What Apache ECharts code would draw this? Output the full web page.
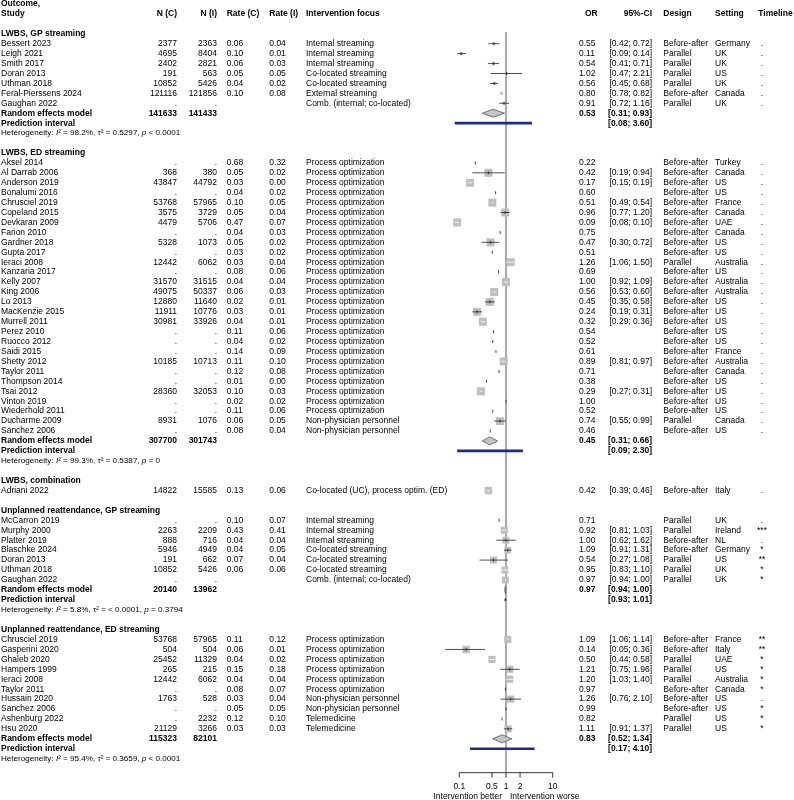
<!DOCTYPE html>
<html>
<head>
<meta charset="utf-8">
<script src="https://cdn.jsdelivr.net/npm/echarts@6.0.0/dist/echarts.min.js"></script>
<style>
  html, body { margin: 0; padding: 0; background: #fff; }
  #forest { width: 794px; height: 800px; }
</style>
</head>
<body>
<div id="forest"></div>
<script>
// subgroups
const subgroupTitles = [
  'LWBS, GP streaming',
  'LWBS, ED streaming',
  'LWBS, combination',
  'Unplanned reattendance, GP streaming',
  'Unplanned reattendance, ED streaming'
]

// studies (null = '.' or blank in the table, no CI)
const studyGroup = [
  0, 0, 0, 0, 0, 0, 0,
  1, 1, 1, 1, 1, 1, 1, 1, 1, 1, 1, 1, 1, 1, 1, 1, 1, 1, 1, 1, 1, 1, 1, 1, 1, 1, 1, 1,
  2,
  3, 3, 3, 3, 3, 3, 3,
  4, 4, 4, 4, 4, 4, 4, 4, 4, 4
]
const studies = [
  'Bessert 2023', 'Leigh 2021', 'Smith 2017', 'Doran 2013', 'Uthman 2018', 'Feral-Pierssens 2024', 'Gaughan 2022',
  'Aksel 2014', 'Al Darrab 2006', 'Anderson 2019', 'Bonalumi 2016', 'Chrusciel 2019', 'Copeland 2015', 'Devkaran 2009',
  'Farion 2010', 'Gardner 2018', 'Gupta 2017', 'Ieraci 2008', 'Kanzaria 2017', 'Kelly 2007', 'King 2006', 'Lo 2013',
  'MacKenzie 2015', 'Murrell 2011', 'Perez 2010', 'Ruocco 2012', 'Saidi 2015', 'Shetty 2012', 'Taylor 2011',
  'Thompson 2014', 'Tsai 2012', 'Vinton 2019', 'Wiederhold 2011', 'Ducharme 2009', 'Sanchez 2006',
  'Adriani 2022',
  'McCarron 2019', 'Murphy 2000', 'Platter 2019', 'Blaschke 2024', 'Doran 2013', 'Uthman 2018', 'Gaughan 2022',
  'Chrusciel 2019', 'Gasperini 2020', 'Ghaleb 2020', 'Hampers 1999', 'Ieraci 2008', 'Taylor 2011', 'Hussain 2020',
  'Sanchez 2006', 'Ashenburg 2022', 'Hsu 2020'
]
const nControl = [
  2377, 4695, 2402, 191, 10852, 121116, null,
  null, 368, 43847, null, 53768, 3575, 4479, null, 5328, null, 12442, null, 31570, 49075, 12880,
  11911, 30981, null, null, null, 10185, null, null, 28360, null, null, 8931, null,
  14822,
  null, 2263, 888, 5946, 191, 10852, null,
  53768, 504, 25452, 265, 12442, null, 1763, null, null, 21129
]
const nInterv = [
  2363, 8404, 2821, 563, 5426, 121856, null,
  null, 380, 44792, null, 57965, 3729, 5706, null, 1073, null, 6062, null, 31515, 50337, 11640,
  10776, 33926, null, null, null, 10713, null, null, 32053, null, null, 1076, null,
  15585,
  null, 2209, 716, 4949, 662, 5426, null,
  57965, 504, 11329, 215, 6062, null, 528, null, 2232, 3266
]
const rateControl = [
  0.06, 0.10, 0.06, 0.05, 0.04, 0.10, null,
  0.68, 0.05, 0.03, 0.04, 0.10, 0.05, 0.47, 0.04, 0.05, 0.03, 0.03, 0.08, 0.04, 0.06, 0.02,
  0.03, 0.04, 0.11, 0.04, 0.14, 0.11, 0.12, 0.01, 0.10, 0.02, 0.11, 0.06, 0.08,
  0.13,
  0.10, 0.43, 0.04, 0.04, 0.07, 0.06, null,
  0.11, 0.06, 0.04, 0.15, 0.04, 0.08, 0.03, 0.05, 0.12, 0.03
]
const rateInterv = [
  0.04, 0.01, 0.03, 0.05, 0.02, 0.08, null,
  0.32, 0.02, 0.00, 0.02, 0.05, 0.04, 0.07, 0.03, 0.02, 0.02, 0.04, 0.06, 0.04, 0.03, 0.01,
  0.01, 0.01, 0.06, 0.02, 0.09, 0.10, 0.08, 0.00, 0.03, 0.02, 0.06, 0.05, 0.04,
  0.06,
  0.07, 0.41, 0.04, 0.05, 0.04, 0.06, null,
  0.12, 0.01, 0.02, 0.18, 0.04, 0.07, 0.04, 0.05, 0.10, 0.03
]
const PO = 'Process optimization'
const NP = 'Non-physician personnel'
const focus = [
  'Internal streaming', 'Internal streaming', 'Internal streaming', 'Co-located streaming', 'Co-located streaming',
  'External streaming', 'Comb. (internal; co-located)',
  PO, PO, PO, PO, PO, PO, PO, PO, PO, PO, PO, PO, PO, PO, PO, PO, PO, PO, PO, PO, PO, PO, PO, PO, PO, PO, NP, NP,
  'Co-located (UC), process optim. (ED)',
  'Internal streaming', 'Internal streaming', 'Internal streaming', 'Co-located streaming', 'Co-located streaming',
  'Co-located streaming', 'Comb. (internal; co-located)',
  PO, PO, PO, PO, PO, PO, NP, NP, 'Telemedicine', 'Telemedicine'
]
const oddsRatio = [
  0.55, 0.11, 0.54, 1.02, 0.56, 0.80, 0.91,
  0.22, 0.42, 0.17, 0.60, 0.51, 0.96, 0.09, 0.75, 0.47, 0.51, 1.26, 0.69, 1.00, 0.56, 0.45,
  0.24, 0.32, 0.54, 0.52, 0.61, 0.89, 0.71, 0.38, 0.29, 1.00, 0.52, 0.74, 0.46,
  0.42,
  0.71, 0.92, 1.00, 1.09, 0.54, 0.95, 0.97,
  1.09, 0.14, 0.50, 1.21, 1.20, 0.97, 1.26, 0.99, 0.82, 1.11
]
const ciLower = [
  0.42, 0.09, 0.41, 0.47, 0.45, 0.78, 0.72,
  null, 0.19, 0.15, null, 0.49, 0.77, 0.08, null, 0.30, null, 1.06, null, 0.92, 0.53, 0.35,
  0.19, 0.29, null, null, null, 0.81, null, null, 0.27, null, null, 0.55, null,
  0.39,
  null, 0.81, 0.62, 0.91, 0.27, 0.83, 0.94,
  1.06, 0.05, 0.44, 0.75, 1.03, null, 0.76, null, null, 0.91
]
const ciUpper = [
  0.72, 0.14, 0.71, 2.21, 0.68, 0.82, 1.16,
  null, 0.94, 0.19, null, 0.54, 1.20, 0.10, null, 0.72, null, 1.50, null, 1.09, 0.60, 0.58,
  0.31, 0.36, null, null, null, 0.97, null, null, 0.31, null, null, 0.99, null,
  0.46,
  null, 1.03, 1.62, 1.31, 1.08, 1.10, 1.00,
  1.14, 0.36, 0.58, 1.96, 1.40, null, 2.10, null, null, 1.37
]
// relative weight
const weight = [
  0.5, 0.5, 0.5, 0.5, 0.5, 0.6, 0.5,
  0, 4, 4, 0, 4, 4, 4, 0, 4, 0, 4, 0, 4, 4, 4, 4, 4, 0, 0, 0, 4, 0, 0, 4, 0, 0, 4, 0,
  3.5,
  0, 3, 3, 3, 3, 3, 3,
  3.2, 3.5, 3.2, 3.2, 3.2, 0, 3.2, 0, 0, 3.2
]
const BA = 'Before-after'
const PA = 'Parallel'
const design = [
  BA, PA, PA, PA, PA, BA, PA,
  BA, BA, BA, BA, BA, BA, BA, BA, BA, BA, PA, BA, BA, BA, BA, BA, BA, BA, BA, BA, BA, BA, BA, BA, BA, BA, PA, BA,
  BA,
  PA, PA, BA, BA, PA, PA, PA,
  BA, BA, PA, PA, PA, BA, BA, BA, PA, PA
]
const setting = [
  'Germany', 'UK', 'UK', 'US', 'UK', 'Canada', 'UK',
  'Turkey', 'Canada', 'US', 'US', 'France', 'Canada', 'UAE', 'Canada', 'US', 'US', 'Australia', 'US', 'Australia',
  'Australia', 'US', 'US', 'US', 'US', 'US', 'France', 'Australia', 'Canada', 'US', 'US', 'US', 'US', 'Canada', 'US',
  'Italy',
  'UK', 'Ireland', 'NL', 'Germany', 'US', 'UK', 'UK',
  'France', 'Italy', 'UAE', 'US', 'Australia', 'Canada', 'US', 'US', 'US', 'US'
]
const timeline = [
  '.', '.', '.', '.', '.', '.', '.',
  '.', '.', '.', '.', '.', '.', '.', '.', '.', '.', '.', '.', '.', '.', '.', '.', '.', '.', '.', '.', '.', '.', '.', '.', '.', '.', '.', '.',
  '.',
  '.', '***', '.', '*', '**', '*', '*',
  '**', '**', '*', '*', '*', '*', '.', '*', '*', '*'
]

// pooled results per subgroup (null = no pooling)
const poolNControl = [141633, 307700, null, 20140, 115323]
const poolNInterv = [141433, 301743, null, 13962, 82101]
const poolOR = [0.53, 0.45, null, 0.97, 0.83]
const poolLower = [0.31, 0.31, null, 0.94, 0.52]
const poolUpper = [0.93, 0.66, null, 1.00, 1.34]
const predLower = [0.08, 0.09, null, 0.93, 0.17]
const predUpper = [3.60, 2.30, null, 1.01, 4.10]
const hetI2 = ['98.2%', '99.3%', null, '5.8%', '95.4%']
const hetTau2 = ['0.5297', '0.5387', null, '< 0.0001', '0.3659']
const hetP = ['< 0.0001', '= 0', null, '= 0.3794', '< 0.0001']

// x axis ticks
const tickValues = [0.1, 0.5, 1, 2, 10]
const tickLabels = ['0.1', '0.5', '1', '2', '10']

// ---- layout ----
const FONT = 'Liberation Sans, Arial, Helvetica, sans-serif'
const FS = 8.5
const cols = {
  study: { x: 1, align: 'left' },
  nC: { x: 177, align: 'right' },
  nI: { x: 217, align: 'right' },
  rateC: { x: 226.7, align: 'left' },
  rateI: { x: 269.3, align: 'left' },
  focus: { x: 306, align: 'left' },
  or: { x: 579, align: 'left' },
  ci: { x: 652, align: 'right' },
  design: { x: 663.3, align: 'left' },
  setting: { x: 715, align: 'left' },
  timeline: { x: 762, align: 'center' }
}
const f2 = (v) => (v == null ? '' : v.toFixed(2))
const ci = (lo, hi) => (lo == null ? '' : '[' + f2(lo) + '; ' + f2(hi) + ']')
const nTxt = (v) => (v == null ? '.' : String(v))

// build table rows and forest marks
const textRows = []
const marks = []
textRows.push({ row: 0, bold: true, cells: [['study', 'Outcome,']] })
textRows.push({
  row: 1, bold: true,
  cells: [['study', 'Study'], ['nC', 'N (C)'], ['nI', 'N (I)'], ['rateC', 'Rate (C)'], ['rateI', 'Rate (I)'],
    ['focus', 'Intervention focus'], ['or', 'OR', 585], ['ci', '95%-CI'], ['design', 'Design'],
    ['setting', 'Setting'], ['timeline', 'Timeline', 758.3, 'left']]
})
let r = 3
subgroupTitles.forEach((title, g) => {
  textRows.push({ row: r, bold: true, cells: [['study', title]] })
  r++
  studies.forEach((name, i) => {
    if (studyGroup[i] !== g) return
    textRows.push({
      row: r,
      cells: [['study', name], ['nC', nTxt(nControl[i])], ['nI', nTxt(nInterv[i])],
        ['rateC', f2(rateControl[i])], ['rateI', f2(rateInterv[i])], ['focus', focus[i]],
        ['or', f2(oddsRatio[i])], ['ci', ci(ciLower[i], ciUpper[i])], ['design', design[i]],
        ['setting', setting[i]], ['timeline', timeline[i]]]
    })
    marks.push({ kind: 'study', row: r, est: oddsRatio[i], lo: ciLower[i], hi: ciUpper[i], w: weight[i] })
    r++
  })
  if (poolOR[g] != null) {
    textRows.push({
      row: r, bold: true,
      cells: [['study', 'Random effects model'], ['nC', String(poolNControl[g])], ['nI', String(poolNInterv[g])],
        ['or', f2(poolOR[g])], ['ci', ci(poolLower[g], poolUpper[g])]]
    })
    marks.push({ kind: 'pooled', row: r, est: poolOR[g], lo: poolLower[g], hi: poolUpper[g] })
    r++
    textRows.push({ row: r, bold: true, cells: [['study', 'Prediction interval'], ['ci', ci(predLower[g], predUpper[g])]] })
    marks.push({ kind: 'predict', row: r, lo: predLower[g], hi: predUpper[g] })
    r++
    textRows.push({ row: r, het: [hetI2[g], hetTau2[g], hetP[g]] })
    r++
  }
  r++
})
const refTop = 2.82
const axisRow = 77.41

const chart = echarts.init(document.getElementById('forest'))

const textItem = (x, y, text, align, bold) => ({
  type: 'text',
  style: {
    x: x, y: y, text: text, fill: '#000',
    fontFamily: FONT, fontSize: FS, fontWeight: bold ? 'bold' : 'normal',
    align: align, verticalAlign: 'middle'
  }
})

const option = {
  animation: false,
  grid: { left: 459.3, width: 93.4, top: 4, height: 794.4 },
  xAxis: { type: 'log', logBase: 10, min: 0.1, max: 10, show: false },
  yAxis: { type: 'value', min: 0, max: 80, inverse: true, show: false },
  series: [
    {
      // reference line at OR = 1
      type: 'custom',
      z: 1,
      data: [[1, refTop]],
      renderItem: (params, api) => {
        const a = api.coord([1, refTop])
        const b = api.coord([1, axisRow])
        return {
          type: 'line',
          shape: { x1: a[0], y1: a[1], x2: b[0], y2: b[1] },
          style: { stroke: '#aaaaaa', lineWidth: 2 }
        }
      }
    },
    {
      // forest marks
      type: 'custom',
      z: 3,
      data: marks.map((m) => [m.est == null ? 1 : m.est, m.row]),
      renderItem: (params, api) => {
        const m = marks[params.dataIndex]
        const y = api.coord([1, m.row])[1]
        const children = []
        if (m.kind === 'predict') {
          const xl = api.coord([m.lo, m.row])[0]
          const xh = api.coord([m.hi, m.row])[0]
          children.push({
            type: 'line', shape: { x1: xl, y1: y, x2: xh, y2: y },
            style: { stroke: '#1c2a8c', lineWidth: 2.6 }
          })
        } else if (m.kind === 'pooled') {
          const xl = api.coord([m.lo, m.row])[0]
          const xh = api.coord([m.hi, m.row])[0]
          const xc = api.coord([m.est, m.row])[0]
          children.push({
            type: 'polygon',
            shape: { points: [[xl, y], [xc, y - 4], [xh, y], [xc, y + 4]] },
            style: { fill: '#c4c4c4', stroke: '#555', lineWidth: 0.8 }
          })
        } else {
          const xc = api.coord([m.est, m.row])[0]
          const s = 4 * Math.sqrt(m.w)
          if (s > 0) {
            children.push({
              type: 'rect', shape: { x: xc - s / 2, y: y - s / 2, width: s, height: s },
              style: { fill: '#bebebe' }
            })
          }
          if (m.lo != null) {
            const xl = api.coord([m.lo, m.row])[0]
            const xh = api.coord([m.hi, m.row])[0]
            const inside = xl >= xc - s / 2 && xh <= xc + s / 2
            children.push({
              type: 'line', shape: { x1: xl, y1: y, x2: xh, y2: y },
              style: { stroke: inside ? '#fff' : '#222', lineWidth: 0.8 }
            })
            if (!inside) {
              children.push({
                type: 'line', shape: { x1: xc, y1: y - 1.5, x2: xc, y2: y + 1.5 },
                style: { stroke: '#222', lineWidth: 0.8 }
              })
            }
          } else {
            children.push({
              type: 'rect', shape: { x: xc - 0.5, y: y - 1.5, width: 1, height: 3 },
              style: { fill: '#444' }
            })
          }
        }
        return { type: 'group', children: children }
      }
    },
    {
      // table text
      type: 'custom',
      z: 4,
      data: textRows.map((t) => [1, t.row]),
      renderItem: (params, api) => {
        const t = textRows[params.dataIndex]
        const y = api.coord([1, t.row])[1]
        if (t.het) {
          return {
            type: 'text',
            style: {
              x: 1, y: y, align: 'left', verticalAlign: 'middle',
              text: '{a|Heterogeneity: }{i|I}{a|² = ' + t.het[0] + ', τ² = ' + t.het[1] + ', }{i|p}{a| ' + t.het[2] + '}',
              rich: {
                a: { fontFamily: FONT, fontSize: 8.1, fill: '#000' },
                i: { fontFamily: FONT, fontSize: 8.1, fontStyle: 'italic', fill: '#000' }
              }
            }
          }
        }
        const children = t.cells.map((c) => {
          const col = cols[c[0]]
          return textItem(c[2] != null ? c[2] : col.x, y, c[1], c[3] || col.align, t.bold)
        })
        return { type: 'group', children: children }
      }
    },
    {
      // x axis: line, ticks, labels
      type: 'custom',
      z: 2,
      data: tickValues.map((v) => [v, axisRow]),
      renderItem: (params, api) => {
        const i = params.dataIndex
        const p = api.coord([tickValues[i], axisRow])
        const children = [
          { type: 'line', shape: { x1: p[0], y1: p[1], x2: p[0], y2: p[1] + 5 }, style: { stroke: '#000', lineWidth: 0.8 } },
          textItem(p[0], p[1] + 13.5, tickLabels[i], 'center', false)
        ]
        if (i === 0) {
          const q = api.coord([tickValues[tickValues.length - 1], axisRow])
          children.push({ type: 'line', shape: { x1: p[0], y1: p[1], x2: q[0], y2: q[1] }, style: { stroke: '#000', lineWidth: 0.8 } })
          const c = api.coord([1, axisRow])
          children.push(textItem(c[0] - 4, p[1] + 24, 'Intervention better', 'right', false))
          children.push(textItem(c[0] + 4, p[1] + 24, 'Intervention worse', 'left', false))
        }
        return { type: 'group', children: children }
      }
    }
  ]
}

chart.setOption(option)
</script>
</body>
</html>
